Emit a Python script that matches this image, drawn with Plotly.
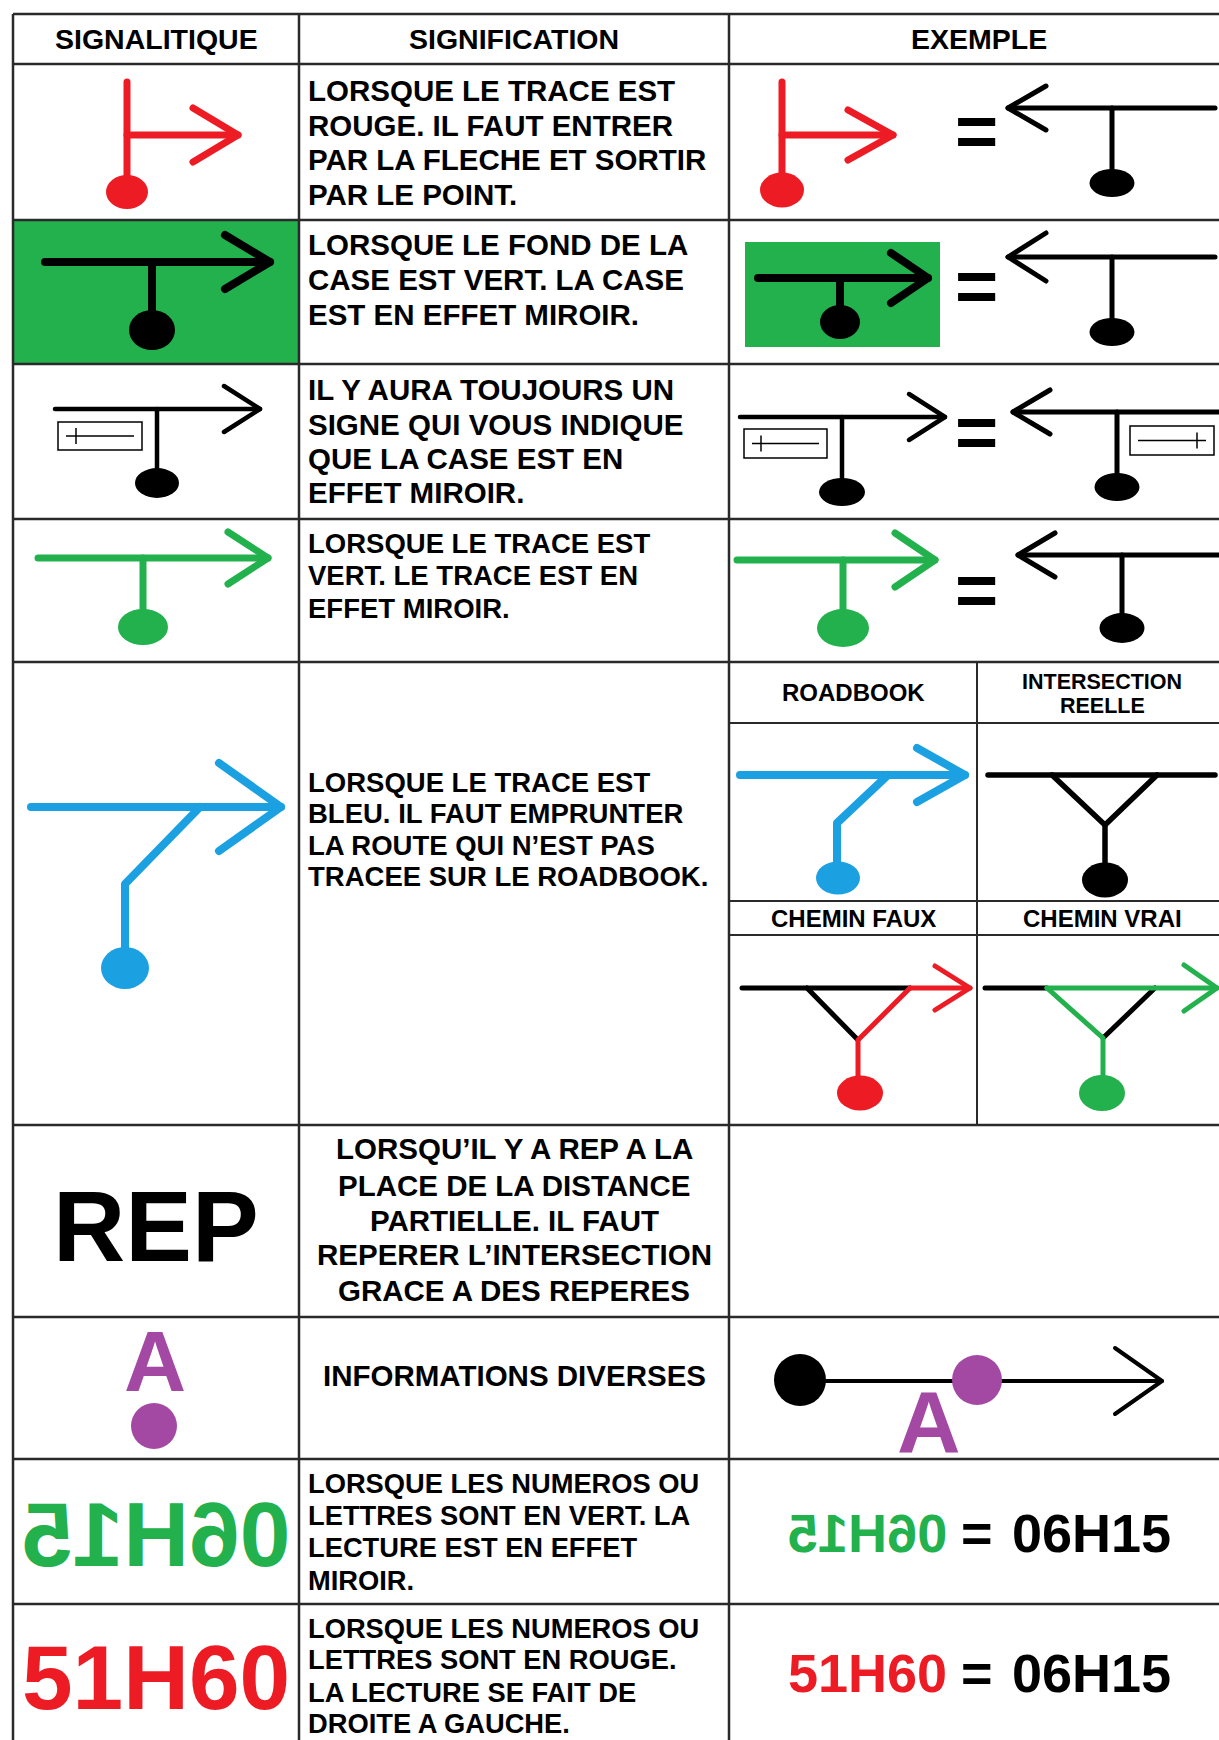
import plotly.graph_objects as go

# ------------------------------------------------------------------ content
HEADERS = ["SIGNALITIQUE", "SIGNIFICATION", "EXEMPLE"]

MEANINGS = [
    ["LORSQUE LE TRACE EST", "ROUGE. IL FAUT ENTRER", "PAR LA FLECHE ET SORTIR", "PAR LE POINT."],
    ["LORSQUE LE FOND DE LA", "CASE EST VERT. LA CASE", "EST EN EFFET MIROIR."],
    ["IL Y AURA TOUJOURS UN", "SIGNE QUI VOUS INDIQUE", "QUE LA CASE EST EN", "EFFET MIROIR."],
    ["LORSQUE LE TRACE EST", "VERT. LE TRACE EST EN", "EFFET MIROIR."],
    ["LORSQUE LE TRACE EST", "BLEU. IL FAUT EMPRUNTER", "LA ROUTE QUI N\u2019EST PAS",
     "TRACEE SUR LE ROADBOOK."],
    ["LORSQU\u2019IL Y A REP A LA", "PLACE DE LA DISTANCE", "PARTIELLE. IL FAUT",
     "REPERER L\u2019INTERSECTION", "GRACE A DES REPERES"],
    ["INFORMATIONS DIVERSES"],
    ["LORSQUE LES NUMEROS OU", "LETTRES SONT EN VERT. LA", "LECTURE EST EN EFFET", "MIROIR."],
    ["LORSQUE LES NUMEROS OU", "LETTRES SONT EN ROUGE.", "LA LECTURE SE FAIT DE", "DROITE A GAUCHE."],
]

SUB_HEADERS = [["ROADBOOK"], ["INTERSECTION", "REELLE"], ["CHEMIN FAUX"], ["CHEMIN VRAI"]]

BIG_LABELS = ["REP", "A", "06H15", "51H60"]
EXAMPLE_TIME = ["06H15", "51H60"]
EQUAL = "="
READ_TIME = "06H15"
INFO_LETTER = "A"

# ------------------------------------------------------------------ layout / style
W, H = 1219, 1740
FONT = "Liberation Sans, Arial, Helvetica, sans-serif"
RED, GREEN, BLUE, PURPLE, BLACK = "#ED1C24", "#22B14C", "#1BA1E2", "#A349A4", "#000000"
GRID = "#2a2a2a"

ROW_LINES = [14, 64, 220, 364, 519, 662, 1125, 1317, 1459, 1604]
COL_LINES = [13, 299, 729]
SUB_COL = 977
SUB_ROWS = [723, 901, 935]

MEANING_Y = [
    [90, 125, 159, 194],
    [244, 279, 314],
    [389, 424, 458, 492],
    [543, 575, 608],
    [782, 813, 845, 876],
    [1148, 1185, 1220, 1254, 1290],
    [1375],
    [1483, 1515, 1547, 1580],
    [1628, 1659, 1692, 1723],
]
MEANING_SIZE = [29.5, 29.5, 29.5, 27.5, 27.5, 29.5, 29.5, 27.3, 27.3]
MEANING_CENTERED = [False, False, False, False, False, True, True, False, False]

fig = go.Figure()
shapes = []
annotations = []


def poly(pts, color, width):
    fig.add_trace(go.Scatter(x=[p[0] for p in pts], y=[p[1] for p in pts], mode="lines",
                             line=dict(color=color, width=width), hoverinfo="skip",
                             showlegend=False))


def dot(cx, cy, rx, ry, color):
    shapes.append(dict(type="circle", xref="x", yref="y", x0=cx - rx, x1=cx + rx,
                       y0=cy - ry, y1=cy + ry, fillcolor=color, line=dict(width=0),
                       layer="above"))


def text(x, y, s, size, color=BLACK, anchor="center"):
    annotations.append(dict(x=x, y=y, xref="x", yref="y", text="<b>" + s + "</b>",
                            showarrow=False, xanchor=anchor, yanchor="middle",
                            font=dict(family=FONT, size=size, color=color)))
    return len(annotations) - 1


def arrow_line(x_from, x_tip, y, color, lw, hdx, hdy):
    poly([(x_from, y), (x_tip, y)], color, lw)
    s = 1 if x_tip > x_from else -1
    poly([(x_tip - s * hdx, y - hdy), (x_tip, y), (x_tip - s * hdx, y + hdy)], color, lw)


def tee(x_from, x_tip, y, stem_x, dot_y, color, lw, hdx, hdy, rx, ry):
    arrow_line(x_from, x_tip, y, color, lw, hdx, hdy)
    poly([(stem_x, y), (stem_x, dot_y)], color, lw)
    dot(stem_x, dot_y, rx, ry, color)


def mirror_box(x0, y0, x1, y1, tick_x):
    shapes.append(dict(type="rect", xref="x", yref="y", x0=x0, x1=x1, y0=y0, y1=y1,
                       line=dict(color=BLACK, width=1.5), fillcolor="rgba(0,0,0,0)",
                       layer="above"))
    ym = (y0 + y1) / 2
    shapes.append(dict(type="line", xref="x", yref="y", x0=x0 + 8, x1=x1 - 8, y0=ym, y1=ym,
                       line=dict(color=BLACK, width=1.5), layer="above"))
    shapes.append(dict(type="line", xref="x", yref="y", x0=tick_x, x1=tick_x, y0=ym - 8,
                       y1=ym + 8, line=dict(color=BLACK, width=1.5), layer="above"))


def green_bg(x0, y0, x1, y1):
    shapes.append(dict(type="rect", xref="x", yref="y", x0=x0, x1=x1, y0=y0, y1=y1,
                       fillcolor=GREEN, line=dict(width=0), layer="below"))


# ------------------------------------------------------------------ backgrounds + grid
green_bg(COL_LINES[0], ROW_LINES[2], COL_LINES[1], ROW_LINES[3])
green_bg(745, 242, 940, 347)

for y in ROW_LINES:
    shapes.append(dict(type="line", xref="x", yref="y", x0=COL_LINES[0], x1=W, y0=y, y1=y,
                       line=dict(color=GRID, width=2.5), layer="below"))
for x in COL_LINES:
    shapes.append(dict(type="line", xref="x", yref="y", x0=x, x1=x, y0=ROW_LINES[0], y1=H,
                       line=dict(color=GRID, width=2.5), layer="below"))
shapes.append(dict(type="line", xref="x", yref="y", x0=SUB_COL, x1=SUB_COL, y0=ROW_LINES[5],
                   y1=ROW_LINES[6], line=dict(color=GRID, width=2), layer="below"))
for y in SUB_ROWS:
    shapes.append(dict(type="line", xref="x", yref="y", x0=COL_LINES[2], x1=W, y0=y, y1=y,
                       line=dict(color=GRID, width=2), layer="below"))

# ------------------------------------------------------------------ headers
HEADER_X = [156, 514, 979]
for hx, lab in zip(HEADER_X, HEADERS):
    text(hx, 39, lab, 28.5)

# ------------------------------------------------------------------ meanings
for lines, ys, size, centered in zip(MEANINGS, MEANING_Y, MEANING_SIZE, MEANING_CENTERED):
    for s, y in zip(lines, ys):
        if centered:
            text(514, y, s, size)
        else:
            text(306, y, s, size, anchor="left")

# ------------------------------------------------------------------ row 1 : red hook
poly([(127, 82), (127, 192)], RED, 7)
arrow_line(127, 238, 135, RED, 7, 45, 27)
dot(127, 192, 21, 17, RED)

poly([(782, 82), (782, 190)], RED, 7)
arrow_line(782, 893, 135, RED, 7, 45, 25)
dot(782, 190, 22, 17.5, RED)
text(976, 131, EQUAL, 74)
tee(1215, 1008, 108, 1112, 183, BLACK, 5, 38, 22, 22.5, 14)

# ------------------------------------------------------------------ row 2 : green cell
tee(45, 270, 262, 152, 330, BLACK, 8, 45, 27, 23, 20)
tee(758, 928, 278, 840, 322, BLACK, 8, 37, 25, 20, 17)
text(976, 286, EQUAL, 74)
tee(1215, 1008, 257, 1112, 332, BLACK, 5, 38, 24, 22.5, 14)

# ------------------------------------------------------------------ row 3 : mirror sign
tee(55, 260, 409, 157, 483, BLACK, 4.5, 36, 23, 22, 15)
mirror_box(58, 422, 142, 450, 76)
tee(740, 945, 417, 842, 492, BLACK, 4.5, 36, 23, 23, 14)
mirror_box(744, 429, 827, 458, 761)
text(976, 432, EQUAL, 74)
tee(1219, 1013, 412, 1117, 487, BLACK, 5, 37, 22, 22.5, 14)
mirror_box(1130, 426, 1214, 455, 1197)

# ------------------------------------------------------------------ row 4 : green trace
tee(38, 268, 558, 143, 627, GREEN, 7, 40, 26, 25, 18)
tee(737, 935, 560, 843, 628, GREEN, 7, 40, 27, 26, 19)
text(976, 590, EQUAL, 74)
tee(1219, 1018, 555, 1122, 628, BLACK, 5, 37, 22, 22.5, 15)

# ------------------------------------------------------------------ row 5 : blue trace
arrow_line(31, 281, 807, BLUE, 8, 62, 44)
poly([(200, 807), (125, 884), (125, 968)], BLUE, 8)
dot(125, 968, 24, 21, BLUE)

sub_pos = [(853, [692], 24), (1102, [682, 706], 21.5), (853, [918], 24), (1102, [918], 24)]
for (sx, sys_, fs), lines in zip(sub_pos, SUB_HEADERS):
    for s, y in zip(lines, sys_):
        text(sx, y, s, fs)

# roadbook
arrow_line(740, 965, 775, BLUE, 8, 48, 27)
poly([(888, 775), (837, 823), (837, 878)], BLUE, 8)
dot(838, 878, 22, 16.5, BLUE)
# real intersection
poly([(988, 775), (1215, 775)], BLACK, 5.5)
poly([(1052, 775), (1105, 825), (1157, 775)], BLACK, 5.5)
poly([(1105, 825), (1105, 880)], BLACK, 5.5)
dot(1105, 880, 23, 17.5, BLACK)
# wrong path
poly([(742, 988), (910, 988)], BLACK, 5)
poly([(807, 988), (858, 1040)], BLACK, 5)
poly([(858, 1093), (858, 1040), (910, 988)], RED, 5)
arrow_line(910, 970, 988, RED, 5, 35, 22)
dot(860, 1093, 23, 17.5, RED)
# right path
poly([(985, 988), (1047, 988)], BLACK, 5)
poly([(1155, 988), (1103, 1038)], BLACK, 5)
arrow_line(1047, 1217, 988, GREEN, 5, 33, 23)
poly([(1047, 988), (1103, 1038), (1103, 1093)], GREEN, 5)
dot(1102, 1093, 23, 18, GREEN)

# ------------------------------------------------------------------ row 6 : REP
text(156, 1226, BIG_LABELS[0], 100)

# ------------------------------------------------------------------ row 7 : info
text(155, 1361, BIG_LABELS[1], 86, PURPLE)
dot(154, 1426, 23, 23, PURPLE)
arrow_line(800, 1162, 1381, BLACK, 4, 47, 33)
dot(800, 1380, 26, 26, BLACK)
dot(977, 1380, 25, 25, PURPLE)
text(929, 1421, INFO_LETTER, 88, PURPLE)

# ------------------------------------------------------------------ rows 8 / 9 : numbers
mirrored = []
mirrored.append(text(156, 1534, BIG_LABELS[2], 91, GREEN))
text(156, 1677, BIG_LABELS[3], 91, RED)

mirrored.append(text(867, 1533, EXAMPLE_TIME[0], 54, GREEN))
text(977, 1533, EQUAL, 54)
text(1091, 1533, READ_TIME, 54)

text(867, 1673, EXAMPLE_TIME[1], 54, RED)
text(977, 1673, EQUAL, 54)
text(1091, 1673, READ_TIME, 54)

# ------------------------------------------------------------------ figure
fig.update_layout(
    width=W, height=H, margin=dict(l=0, r=0, t=0, b=0),
    paper_bgcolor="white", plot_bgcolor="white", showlegend=False, hovermode=False,
    xaxis=dict(range=[0, W], visible=False, showgrid=False, zeroline=False, fixedrange=True),
    yaxis=dict(range=[H, 0], visible=False, showgrid=False, zeroline=False, fixedrange=True),
    shapes=shapes, annotations=annotations,
)

js = """
document.body.style.margin = '0';
document.body.style.padding = '0';
document.documentElement.style.overflow = 'hidden';
var gd = document.getElementById('{plot_id}');
var MIR = %s;
var st = document.createElement('style');
st.textContent = 'body{margin:0;padding:0;} .js-plotly-plot .scatterlayer path.js-line{stroke-linecap:round;stroke-linejoin:round;}';
document.head.appendChild(st);
function fixMirror(){
  MIR.forEach(function(i){
    var t = gd.querySelector('.annotation[data-index="' + i + '"] text.annotation-text');
    if(!t || t.getAttribute('data-mir') === '1') return;
    var b = t.getBBox();
    var cx = b.x + b.width / 2;
    var orig = t.getAttribute('transform') || '';
    t.setAttribute('transform', orig + ' translate(' + (2 * cx) + ',0) scale(-1,1)');
    t.setAttribute('data-mir', '1');
  });
}
fixMirror();
if (gd.on) { gd.on('plotly_afterplot', fixMirror); }
""" % str(mirrored)

fig.write_html("out.html", config={"displayModeBar": False}, post_script=js)
